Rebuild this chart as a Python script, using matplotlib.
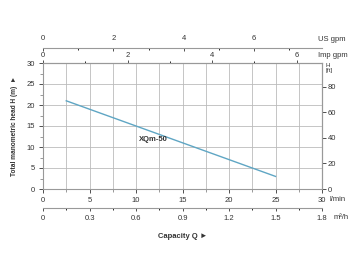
import matplotlib.pyplot as plt
import numpy as np

plt.rcParams['font.family'] = ['Liberation Sans', 'DejaVu Sans']

# pump curve XQm-50 (Q in l/min, H in m)
flow = [2.5, 25]
head = [21, 3]
curve_name = "XQm-50"

x_ticks = [0, 5, 10, 15, 20, 25, 30]
y_ticks = [0, 5, 10, 15, 20, 25, 30]
ft_ticks = [0, 20, 40, 60, 80]
us_ticks = [0, 2, 4, 6]
imp_ticks = [0, 2, 4, 6]
m3h_ticks = [0, 0.3, 0.6, 0.9, 1.2, 1.5, 1.8]

txt = "#333333"
fs = 5.5

fig = plt.figure(figsize=(3.6, 2.7), dpi=100)
ax = fig.add_axes([43 / 360, 81 / 270, 279 / 360, 126 / 270])

ax.plot(flow, head, color="#5fa6c4", lw=1.0)
ax.text(10.3, 11.7, curve_name, fontsize=5.5, fontweight="bold", color=txt, va="center")

ax.set_xlim(0, 30)
ax.set_ylim(0, 30)
ax.set_xticks(x_ticks)
ax.set_yticks(y_ticks)
ax.set_xticks(np.arange(0, 30.1, 2.5), minor=True)
ax.set_yticks(np.arange(0, 30.1, 2.5), minor=True)
ax.grid(True, which="both", axis="x", color="#bbbbbb", lw=0.6)
ax.grid(True, which="major", axis="y", color="#bbbbbb", lw=0.6)
ax.tick_params(labelsize=fs, colors=txt, length=3, width=0.6, pad=3)
ax.tick_params(which="minor", length=2, width=0.6, colors="#888888")
for s in ax.spines.values():
    s.set_color("#999999")
    s.set_linewidth(0.8)
ax.set_ylabel("Total manometric head H (m)  \u25ba", fontsize=4.7, fontweight="bold",
              color=txt, labelpad=6)
ax.set_xlabel("Capacity Q \u25ba", fontsize=5.5, fontweight="bold", color=txt, labelpad=21)
ax.text(30.8, -2.4, "l/min", fontsize=fs, color=txt, va="center")

# right axis in ft
ax_ft = ax.secondary_yaxis("right", functions=(lambda m: m * 3.2808, lambda f: f / 3.2808))
ax_ft.set_yticks(ft_ticks)
ax_ft.tick_params(labelsize=fs, colors=txt, length=3, width=0.6, pad=1)
ax_ft.spines["right"].set_color("#999999")
ax.text(30.4, 28.8, "H\n[ft]", fontsize=4.5, color=txt, ha="left", va="center", linespacing=0.9)

# top axes: Imp gpm at frame, US gpm above
ax_imp = ax.secondary_xaxis("top", functions=(lambda q: q / 4.546, lambda g: g * 4.546))
ax_imp.set_xticks(imp_ticks)
ax_imp.set_xticks([1, 3, 5], minor=True)
ax_imp.tick_params(labelsize=fs, colors=txt, length=2, width=0.6, pad=1)
ax_imp.tick_params(which="minor", length=1.5, width=0.6)
ax_imp.spines["top"].set_color("#999999")
ax.text(29.6, 31.7, "Imp gpm", fontsize=fs, color=txt, va="center")

ax_us = ax.secondary_xaxis(1 + 15 / 126, functions=(lambda q: q / 3.785, lambda g: g * 3.785))
ax_us.set_xticks(us_ticks)
ax_us.set_xticks([1, 3, 5, 7], minor=True)
ax_us.tick_params(labelsize=fs, colors=txt, length=2, width=0.6, pad=4, direction="in")
ax_us.tick_params(which="minor", length=1.5, width=0.6, direction="in")
ax_us.spines["top"].set_color("#999999")
ax.text(29.6, 35.7, "US gpm", fontsize=fs, color=txt, va="center")

# bottom m3/h axis
ax_m3 = ax.secondary_xaxis(-19 / 126, functions=(lambda q: q * 0.06, lambda m: m / 0.06))
ax_m3.set_xticks(m3h_ticks)
ax_m3.set_xticklabels(["0", "0.3", "0.6", "0.9", "1.2", "1.5", "1.8"])
ax_m3.set_xticks(np.arange(0.15, 1.8, 0.3), minor=True)
ax_m3.tick_params(labelsize=fs, colors=txt, length=2, width=0.6, pad=3)
ax_m3.tick_params(which="minor", length=1.5, width=0.6)
ax_m3.spines["bottom"].set_color("#999999")
ax.text(31.2, -6.7, "m\u00b3/h", fontsize=fs, color=txt, va="center")

fig.savefig("out.png", dpi=100)
